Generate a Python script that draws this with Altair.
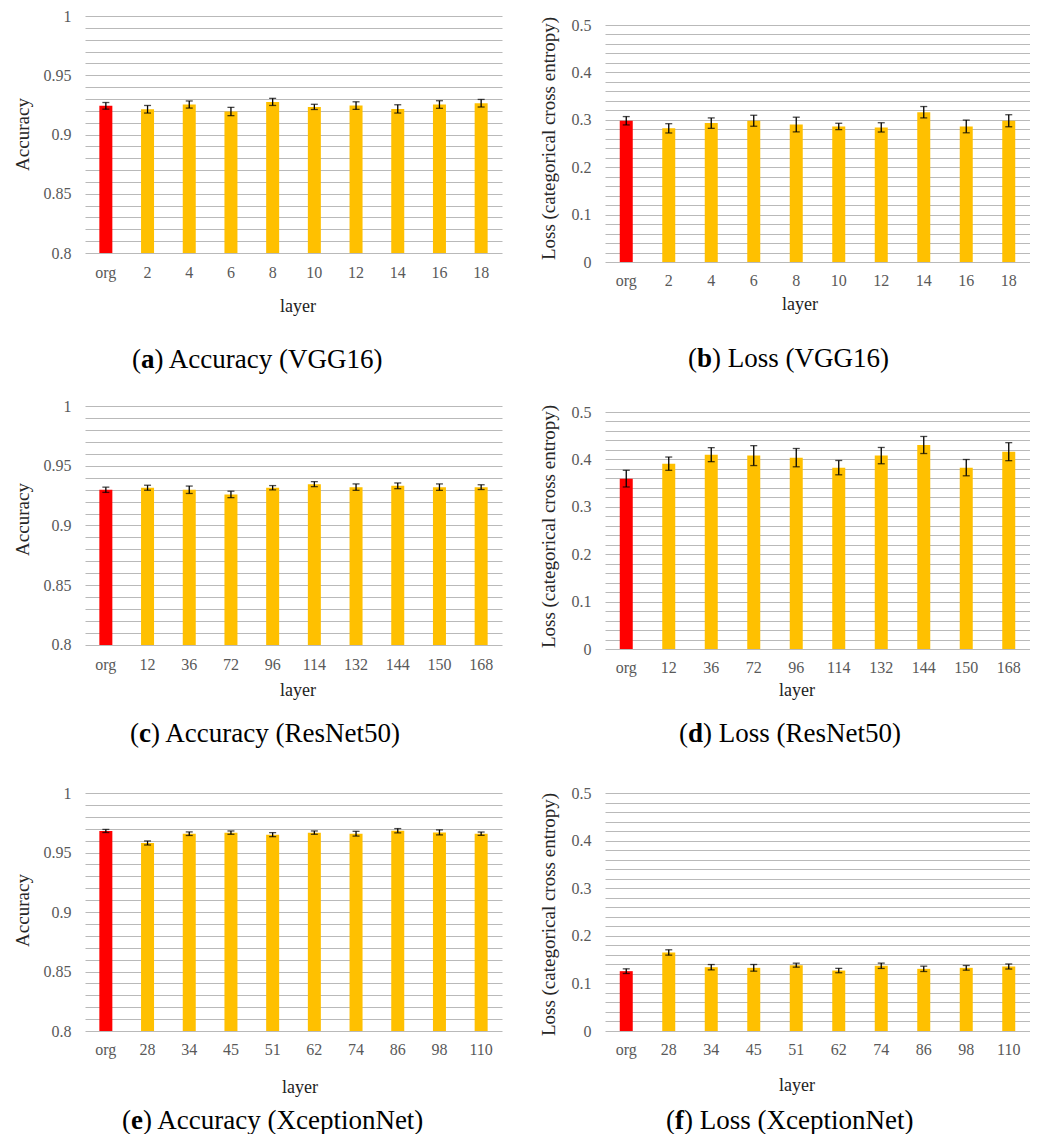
import altair as alt
import pandas as pd

# ---------------- data ----------------
layers_vgg = ["org", "2", "4", "6", "8", "10", "12", "14", "16", "18"]
layers_res = ["org", "12", "36", "72", "96", "114", "132", "144", "150", "168"]
layers_xcp = ["org", "28", "34", "45", "51", "62", "74", "86", "98", "110"]

acc_vgg = [0.9242, 0.9213, 0.9253, 0.9194, 0.9275, 0.9233, 0.9244, 0.9216, 0.9253, 0.9264]
acc_vgg_err = [0.0028, 0.0032, 0.0030, 0.0035, 0.0030, 0.0022, 0.0032, 0.0035, 0.0032, 0.0032]
loss_vgg = [0.298, 0.282, 0.293, 0.298, 0.290, 0.286, 0.284, 0.316, 0.286, 0.298]
loss_vgg_err = [0.0088, 0.0098, 0.0110, 0.0116, 0.0155, 0.0067, 0.0098, 0.0120, 0.0134, 0.0127]

acc_res = [0.9299, 0.9316, 0.9299, 0.9260, 0.9316, 0.9346, 0.9321, 0.9332, 0.9321, 0.9321]
acc_res_err = [0.0022, 0.0021, 0.0031, 0.0027, 0.0018, 0.0021, 0.0027, 0.0024, 0.0027, 0.0020]
loss_res = [0.3594, 0.391, 0.410, 0.408, 0.4037, 0.3826, 0.408, 0.4304, 0.3826, 0.4163]
loss_res_err = [0.0176, 0.0140, 0.0148, 0.0210, 0.0193, 0.0151, 0.0172, 0.0180, 0.0172, 0.0190]

acc_xcp = [0.9681, 0.9580, 0.9658, 0.9667, 0.9650, 0.9667, 0.9658, 0.9683, 0.9669, 0.9658]
acc_xcp_err = [0.0013, 0.0017, 0.0015, 0.0014, 0.0017, 0.0014, 0.0020, 0.0018, 0.0021, 0.0014]
loss_xcp = [0.1257, 0.165, 0.134, 0.1327, 0.1383, 0.127, 0.137, 0.1306, 0.1327, 0.1355]
loss_xcp_err = [0.0049, 0.0056, 0.0056, 0.0070, 0.0042, 0.0046, 0.0056, 0.0056, 0.0049, 0.0053]

FONT = "Liberation Serif"
LABEL_COLOR = "#595959"
TITLE_COLOR = "#262626"
GRID_COLOR = "#b9b9b9"
ORG_COLOR = "#FF0000"
BAR_COLOR = "#FFC000"


def panel(cats, vals, errs, kind, domain, width, height, ytitle, title_y,
          title_pad, xlab_pad, letter, letter_w, rest, cap_x, cap_y,
          layer_x, layer_y):
    if kind == "acc":
        base, top, step, major = 0.8, 1.0, 0.01, 5
    else:
        base, top, step, major = 0.0, 0.5, 0.02, 10
    n_grid = int(round((top - base) / step)) + 1
    grid_vals = [round(base + i * step, 2) for i in range(n_grid)]

    df = pd.DataFrame({
        "layer": cats,
        "v": vals,
        "lo": [v - e for v, e in zip(vals, errs)],
        "hi": [v + e for v, e in zip(vals, errs)],
        "base": [base] * len(cats),
        "kind": ["org"] + ["mod"] * (len(cats) - 1),
    })

    x_enc = alt.X(
        "layer:N", sort=cats,
        scale=alt.Scale(paddingInner=0, paddingOuter=0),
        axis=alt.Axis(title=None, labelAngle=0, ticks=False, domain=False,
                      grid=False, labelPadding=xlab_pad, labelFontSize=16,
                      labelColor=LABEL_COLOR, labelFont=FONT),
    )
    y_axis = alt.Axis(
        values=grid_vals, format="~g",
        labelExpr=f"round(datum.value*100) % {major} === 0 ? datum.label : ''",
        grid=True, gridColor=GRID_COLOR, gridWidth=1.2, ticks=False,
        domain=False, labelPadding=14, labelFontSize=16,
        labelColor=LABEL_COLOR, labelFont=FONT,
        title=ytitle, titleFont=FONT, titleFontSize=19,
        titleFontWeight="normal", titleColor=TITLE_COLOR,
        titlePadding=title_pad, titleY=title_y,
    )
    y_scale = alt.Scale(domain=domain, nice=False, zero=False)

    def yenc(field):
        return alt.Y(field, type="quantitative", scale=y_scale, axis=y_axis)

    bars = alt.Chart(df).mark_bar(size=13).encode(
        x=x_enc,
        y=yenc("v"),
        y2=alt.Y2("base"),
        color=alt.Color("kind:N",
                        scale=alt.Scale(domain=["org", "mod"],
                                        range=[ORG_COLOR, BAR_COLOR]),
                        legend=None),
    )
    rules = alt.Chart(df).mark_rule(color="black", strokeWidth=1.3).encode(
        x=x_enc, y=yenc("lo"), y2=alt.Y2("hi"))
    cap_lo = alt.Chart(df).mark_tick(color="black", size=7, thickness=1.3,
                                     orient="horizontal").encode(
        x=x_enc, y=yenc("lo"))
    cap_hi = alt.Chart(df).mark_tick(color="black", size=7, thickness=1.3,
                                     orient="horizontal").encode(
        x=x_enc, y=yenc("hi"))

    def txt(s, x, y, size, weight="normal", align="left",
            baseline="alphabetic", color="black"):
        return alt.Chart(pd.DataFrame({"t": [s]})).mark_text(
            align=align, baseline=baseline, font=FONT, fontSize=size,
            fontWeight=weight, color=color,
        ).encode(x=alt.value(x), y=alt.value(y), text="t:N")

    paren_w = 9.0
    cap1 = txt("(", cap_x, cap_y, 27)
    cap2 = txt(letter, cap_x + paren_w, cap_y, 27, weight="bold")
    cap3 = txt(rest, cap_x + paren_w + letter_w, cap_y, 27)
    layer_lbl = txt("layer", layer_x, layer_y, 18, align="center",
                    baseline="middle", color="#222222")

    return alt.layer(bars, rules, cap_lo, cap_hi, cap1, cap2, cap3,
                     layer_lbl).properties(width=width, height=height)


LW, RW = 417, 425

pa = panel(layers_vgg, acc_vgg, acc_vgg_err, "acc", [0.79241, 1.0], LW, 246,
           "Accuracy", 118, 11, 2, "a", 13.5, ") Accuracy (VGG16)",
           47, 352, 213, 291)
pb = panel(layers_vgg, loss_vgg, loss_vgg_err, "loss", [0.0, 0.51899], RW, 246,
           "Loss (categorical cross entropy)", 122, 13, 10, "b", 15.0,
           ") Loss (VGG16)", 83, 351, 195, 289)
pc = panel(layers_res, acc_res, acc_res_err, "acc", [0.79665, 1.0], LW, 243,
           "Accuracy", 113, 11, 7, "c", 12.0, ") Accuracy (ResNet50)",
           45, 336, 213, 285)
pd_ = panel(layers_res, loss_res, loss_res_err, "loss", [0.0, 0.51266], RW, 243,
            "Loss (categorical cross entropy)", 120, 13, 10, "d", 15.0,
            ") Loss (ResNet50)", 74, 336, 192, 285)
pe = panel(layers_xcp, acc_xcp, acc_xcp_err, "acc", [0.8, 1.0], LW, 238,
           "Accuracy", 117, 11, 10, "e", 12.0, ") Accuracy (XceptionNet)",
           37, 336, 215, 295)
pf = panel(layers_xcp, loss_xcp, loss_xcp_err, "loss", [0.0, 0.5], RW, 238,
           "Loss (categorical cross entropy)", 121, 13, 10, "f", 9.0,
           ") Loss (XceptionNet)", 61, 336, 192, 293)

chart = alt.concat(
    pa, pb, pc, pd_, pe, pf, columns=2,
    spacing={"row": 144, "column": 103}, bounds="flush",
).properties(
    padding={"left": 5, "top": 0, "right": 0, "bottom": 0},
    background="white",
).configure_view(stroke=None)

chart.save("out.html", embed_options={"renderer": "svg", "actions": False})
